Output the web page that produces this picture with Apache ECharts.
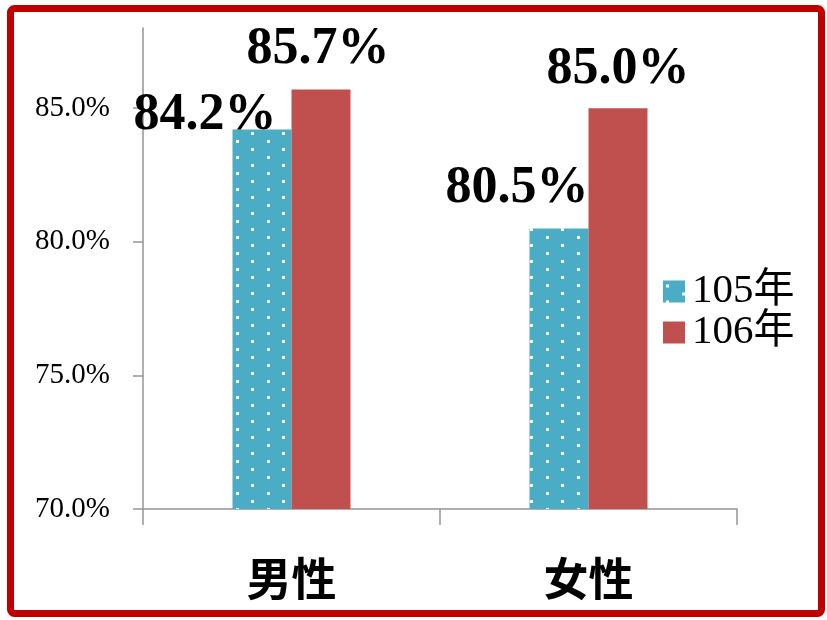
<!DOCTYPE html>
<html>
<head>
<meta charset="utf-8">
<script src="https://cdn.jsdelivr.net/npm/echarts@6/dist/echarts.min.js"></script>
<style>
  html, body { margin: 0; padding: 0; background: #fff; }
  #chart { width: 827px; height: 620px; }
</style>
</head>
<body>
<div id="chart"></div>
<script>
// Categories, series and tick values
const categories = ['男性', '女性'];
const seriesNames = ['105年', '106年'];
const values105 = [84.2, 80.5];
const values106 = [85.7, 85.0];
const yTicks = [70, 75, 80, 85];

// Per-label nudges [dx, dy] for the value labels of each series
const labelShift105 = [[-57, 17], [-42, -9]];
const labelShift106 = [[-3, -9], [0, -8]];

// White dotted fill for the 105年 bars
function dotPattern() {
  const c = document.createElement('canvas');
  c.width = 31; c.height = 16;
  const g = c.getContext('2d');
  g.fillStyle = '#4BACC6';
  g.fillRect(0, 0, 31, 16);
  g.fillStyle = '#ffffff';
  g.fillRect(3, 4, 3, 3);
  g.fillRect(19, 12, 3, 3);
  return { image: c, repeat: 'repeat' };
}

const labelFont = {
  fontFamily: '"Liberation Serif", "Times New Roman", serif',
  fontWeight: 'bold',
  fontSize: 52,
  color: '#000'
};

function buildData(vals, shifts) {
  return vals.map((v, i) => ({
    value: v,
    label: { offset: shifts[i] }
  }));
}

const chart = echarts.init(document.getElementById('chart'));
chart.setOption({
  animation: false,
  backgroundColor: '#ffffff',
  graphic: [{
    type: 'rect',
    shape: { x: 10.5, y: 8.5, width: 811, height: 605, r: 4 },
    style: { fill: 'none', stroke: '#C00000', lineWidth: 7 },
    z: 100
  }],
  grid: { left: 143, right: 90, top: 28, bottom: 111 },
  legend: {
    orient: 'vertical',
    left: 658,
    top: 266,
    icon: 'rect',
    itemWidth: 22,
    itemHeight: 22,
    itemGap: 0,
    data: seriesNames,
    textStyle: {
      fontFamily: '"Liberation Serif", "Noto Sans CJK TC", serif',
      fontSize: 41,
      color: '#000',
      padding: [0, 0, 0, 2]
    }
  },
  xAxis: {
    type: 'category',
    data: categories,
    axisLine: { lineStyle: { color: '#959595', width: 1.5 } },
    axisTick: { show: true, length: 16, alignWithLabel: false, lineStyle: { color: '#959595', width: 1.5 } },
    axisLabel: {
      margin: 47,
      fontFamily: '"Noto Sans CJK TC", sans-serif',
      fontWeight: 'bold',
      fontSize: 45,
      color: '#000'
    }
  },
  yAxis: {
    type: 'value',
    min: 70,
    max: 88,
    interval: 5,
    splitLine: { show: false },
    axisLine: { show: true, lineStyle: { color: '#959595', width: 1.5 } },
    axisTick: { show: true, length: 10, customValues: yTicks, lineStyle: { color: '#959595', width: 1.5 } },
    axisLabel: {
      customValues: yTicks,
      margin: 33,
      fontFamily: '"Liberation Serif", "Times New Roman", serif',
      fontSize: 29,
      color: '#000',
      formatter: v => v.toFixed(1) + '%'
    }
  },
  series: [
    {
      name: seriesNames[0],
      type: 'bar',
      barWidth: 59,
      barGap: '0%',
      data: buildData(values105, labelShift105),
      itemStyle: { color: dotPattern() },
      label: {
        show: true,
        position: 'top',
        formatter: p => p.value.toFixed(1) + '%',
        ...labelFont
      }
    },
    {
      name: seriesNames[1],
      type: 'bar',
      barWidth: 59,
      barGap: '0%',
      data: buildData(values106, labelShift106),
      itemStyle: { color: '#C0504D' },
      label: {
        show: true,
        position: 'top',
        formatter: p => p.value.toFixed(1) + '%',
        ...labelFont
      }
    }
  ]
});
</script>
</body>
</html>
